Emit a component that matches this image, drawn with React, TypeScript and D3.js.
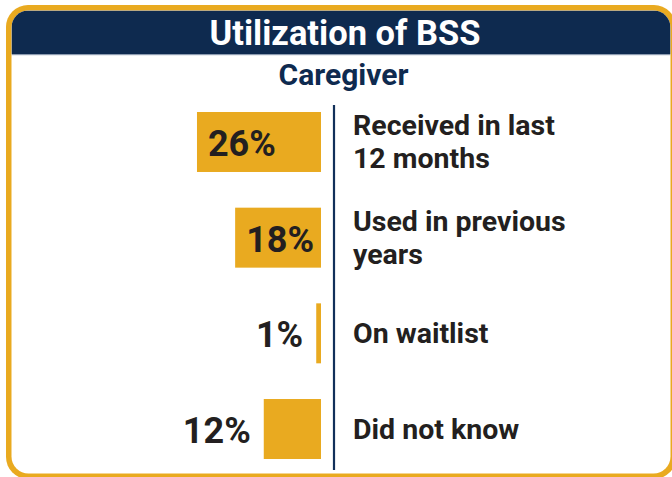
import React from "react";
import * as d3 from "d3";

const categories = ["Received in last 12 months", "Used in previous years", "On waitlist", "Did not know"];
const categoryLines = [["Received in last", "12 months"], ["Used in previous", "years"], ["On waitlist"], ["Did not know"]];
const values = [26, 18, 1, 12];
const valueLabels = ["26%", "18%", "1%", "12%"];
const title = "Utilization of BSS";
const subtitle = "Caregiver";

const W = 672;
const H = 477;
const NAVY = "#0e2a4f";
const ORANGE = "#e9aa20";
const TEXT = "#231f20";
const FONT = "Roboto, 'Liberation Sans', sans-serif";

export default function App() {
  const x = d3.scaleLinear().domain([0, 30]).range([321, 321 - 143.1]);
  const y = d3.scaleBand<string>().domain(categories).range([112, 459]).paddingInner(0.373).paddingOuter(0);
  const bw = y.bandwidth();
  const axisX = 334;

  const outer = { x: 6, y: 5, w: 670, h: 474, r: 22 };
  const b = 5.5;
  const inner = { x: outer.x + b, y: outer.y + b, w: outer.w - 2 * b, h: outer.h - 2 * b, r: 17 };

  return (
    <svg width={W} height={H} style={{ position: "absolute", left: 0, top: 0, display: "block" }} fontFamily={FONT}>
      <defs>
        <clipPath id="innerClip">
          <rect x={inner.x} y={inner.y} width={inner.w} height={inner.h} rx={inner.r} ry={inner.r} />
        </clipPath>
      </defs>
      <rect x={0} y={0} width={W} height={H} fill="#ffffff" />
      <rect x={outer.x} y={outer.y} width={outer.w} height={outer.h} rx={outer.r} ry={outer.r} fill={ORANGE} />
      <rect x={inner.x} y={inner.y} width={inner.w} height={inner.h} rx={inner.r} ry={inner.r} fill="#ffffff" />
      <g clipPath="url(#innerClip)">
        <rect x={inner.x} y={inner.y} width={inner.w} height={54 - inner.y} fill={NAVY} />
        <rect x={inner.x} y={54} width={inner.w} height={1.2} fill="#8c9bb0" />
      </g>
      <text x={345} y={44.5} textAnchor="middle" fill="#ffffff" fontSize={34.5} fontWeight={700}>{title}</text>
      <text x={343.5} y={85} textAnchor="middle" fill={NAVY} fontSize={30} fontWeight={700}>{subtitle}</text>

      {categories.map((c, i) => {
        const v = values[i];
        const y0 = y(c) as number;
        const cy = y0 + bw / 2;
        const inside = v >= 15;
        const lines = categoryLines[i];
        const lineH = 33;
        const firstBase = cy + 10 - ((lines.length - 1) * lineH) / 2;
        return (
          <g key={c}>
            <rect x={x(v)} y={y0} width={x(0) - x(v)} height={bw} fill={ORANGE} />
            <text
              x={inside ? x(v) + 11 : x(v) - 13}
              y={cy + 14}
              textAnchor={inside ? "start" : "end"}
              fill={TEXT}
              fontSize={36}
              fontWeight={700}
            >
              {valueLabels[i]}
            </text>
            <text x={353} y={firstBase} fill={TEXT} fontSize={28.5} fontWeight={700}>
              {lines.map((l, j) => (
                <tspan key={j} x={353} y={firstBase + j * lineH}>{l}</tspan>
              ))}
            </text>
          </g>
        );
      })}
      <line x1={axisX} x2={axisX} y1={105} y2={470} stroke="#12305a" strokeWidth={2.2} />
    </svg>
  );
}
